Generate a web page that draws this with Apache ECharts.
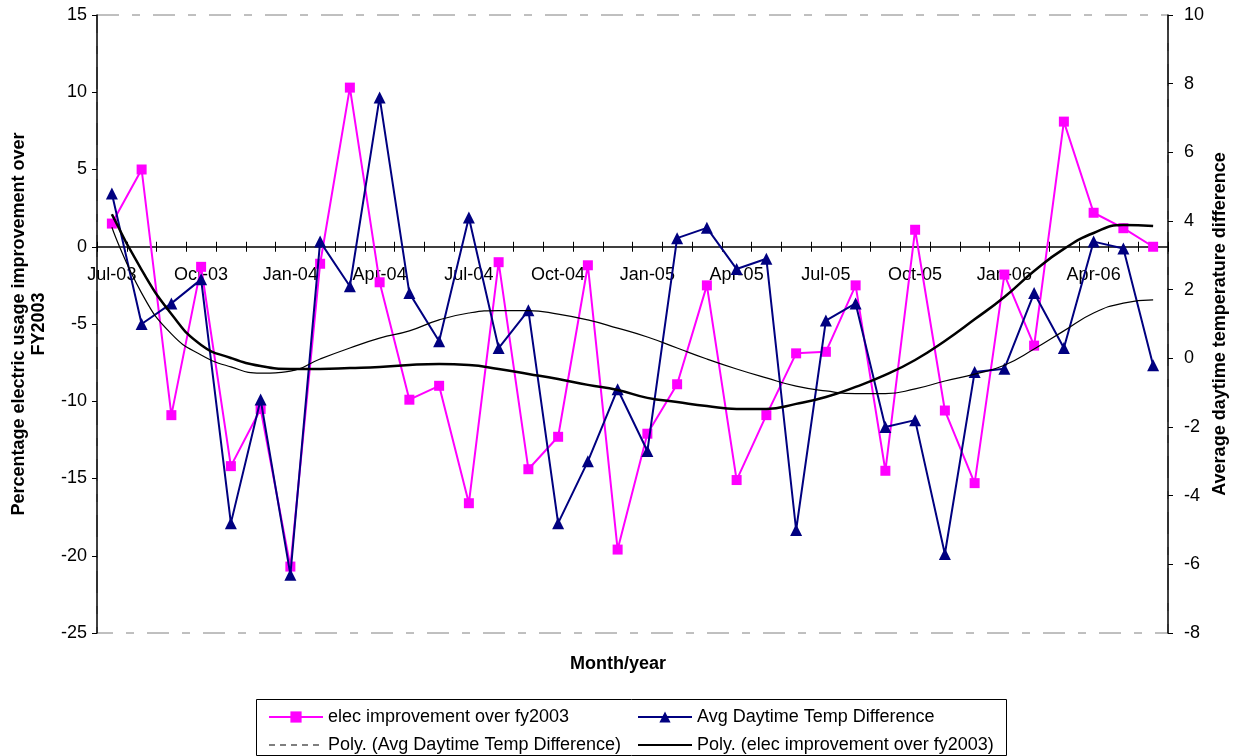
<!DOCTYPE html>
<html><head><meta charset="utf-8">
<script src="https://cdn.jsdelivr.net/npm/echarts@6/dist/echarts.min.js"></script>
<style>html,body{margin:0;padding:0;background:#fff}#c{width:1236px;height:756px}</style>
</head><body><div id="c"></div>
<script>
const months = ["Jul-03","Aug-03","Sep-03","Oct-03","Nov-03","Dec-03","Jan-04","Feb-04","Mar-04","Apr-04","May-04","Jun-04",
"Jul-04","Aug-04","Sep-04","Oct-04","Nov-04","Dec-04","Jan-05","Feb-05","Mar-05","Apr-05","May-05","Jun-05",
"Jul-05","Aug-05","Sep-05","Oct-05","Nov-05","Dec-05","Jan-06","Feb-06","Mar-06","Apr-06","May-06","Jun-06"];
const elecImprovement = [1.5, 5.0, -10.9, -1.3, -14.2, -10.5, -20.7, -1.1, 10.3, -2.3, -9.9, -9.0,
  -16.6, -1.0, -14.4, -12.3, -1.2, -19.6, -12.1, -8.9, -2.5, -15.1, -10.9, -6.9,
  -6.8, -2.5, -14.5, 1.1, -10.6, -15.3, -1.8, -6.4, 8.1, 2.2, 1.2, 0.0];
const tempDifference = [4.8, 1.0, 1.6, 2.3, -4.8, -1.2, -6.3, 3.4, 2.1, 7.6, 1.9, 0.5,
  4.1, 0.3, 1.4, -4.8, -3.0, -0.9, -2.7, 3.5, 3.8, 2.6, 2.9, -5.0,
  1.1, 1.6, -2.0, -1.8, -5.7, -0.4, -0.3, 1.9, 0.3, 3.4, 3.2, -0.2];
// trend lines
const polyElec = [2.1, -1.5, -4.35, -6.36, -7.2, -7.72, -7.91, -7.91, -7.85, -7.78, -7.65, -7.59,
  -7.65, -7.91, -8.23, -8.56, -8.94, -9.27, -9.78, -10.05, -10.31, -10.5, -10.5, -10.17,
  -9.72, -9.07, -8.3, -7.33, -6.1, -4.7, -3.25, -1.57, -0.14, 0.89, 1.41, 1.35];
const polyTemp = [3.82, 1.9, 0.71, 0.1, -0.25, -0.43, -0.37, -0.02, 0.3, 0.59, 0.8, 1.12,
  1.32, 1.39, 1.39, 1.29, 1.12, 0.88, 0.62, 0.3, -0.02, -0.31, -0.57, -0.81,
  -0.95, -1.03, -1.03, -0.89, -0.66, -0.46, -0.2, 0.27, 0.8, 1.32, 1.61, 1.7];
const leftTicks = {min: -25, max: 15, interval: 5};
const rightTicks = {min: -8, max: 10, interval: 2};

const FONT = "'Liberation Sans', Arial, sans-serif";
const names = ["elec improvement over fy2003", "Avg Daytime Temp Difference",
  "Poly. (Avg Daytime Temp Difference)", "Poly. (elec improvement over fy2003)"];

// plot geometry
const G = {left: 97, right: 68, top: 15, bottom: 123};
const plotH = 756 - G.top - G.bottom;
const zeroY = G.top + plotH * (leftTicks.max / (leftTicks.max - leftTicks.min));

const chart = echarts.init(document.getElementById('c'), null, {renderer: 'canvas'});
const legendCommon = {
  orient: 'vertical', itemWidth: 54, itemHeight: 14, itemGap: 10, padding: 0,
  height: 48,
  textStyle: {fontFamily: FONT, fontSize: 18, color: '#000', lineHeight: 16},
  selectedMode: false
};
const noSym = {opacity: 0};
chart.setOption({
  animation: false,
  backgroundColor: '#fff',
  textStyle: {fontFamily: FONT},
  grid: [
    {left: G.left, right: G.right, top: G.top, bottom: G.bottom, show: true,
      borderColor: '#808080', borderWidth: 1, borderType: [22, 13, 8, 13],
      outerBoundsMode: 'none', containLabel: false},
    {left: G.left, right: G.right, top: G.top, bottom: 756 - zeroY, show: false,
      outerBoundsMode: 'none', containLabel: false},
    {left: G.left, right: G.right, top: zeroY, bottom: G.bottom, show: false,
      outerBoundsMode: 'none', containLabel: false}
  ],
  legend: [
    Object.assign({}, legendCommon, {left: 268, top: 708,
      data: [{name: names[0]}, {name: names[2], itemStyle: noSym, lineStyle: {type: [6, 5], width: 1.2, color: '#000', opacity: 1}}]}),
    Object.assign({}, legendCommon, {left: 637, top: 708,
      data: [{name: names[1]}, {name: names[3], itemStyle: noSym, lineStyle: {color: '#000', width: 2, opacity: 1}}]})
  ],
  xAxis: [{
    gridIndex: 0, type: 'category', data: months, boundaryGap: true, show: false
  }, {
    gridIndex: 1, type: 'category', data: months, position: 'bottom', boundaryGap: true,
    axisLine: {onZero: false, lineStyle: {color: '#000', width: 1.5}},
    axisTick: {show: true, interval: 0, length: 5, lineStyle: {color: '#000', width: 1}},
    axisLabel: {interval: 2, margin: 19, fontSize: 18, color: '#000', fontFamily: FONT},
    splitLine: {show: false}
  }, {
    gridIndex: 2, type: 'category', data: months, position: 'top', boundaryGap: true,
    axisLine: {show: false, onZero: false},
    axisTick: {show: true, interval: 0, length: 5, lineStyle: {color: '#000', width: 1}},
    axisLabel: {show: false}, splitLine: {show: false}
  }],
  yAxis: [{
    gridIndex: 0, type: 'value', position: 'left', min: leftTicks.min, max: leftTicks.max, interval: leftTicks.interval,
    axisLine: {show: true, onZero: false, lineStyle: {color: '#000', width: 1.5}},
    axisTick: {show: true, length: 5, lineStyle: {color: '#000'}},
    axisLabel: {margin: 10, fontSize: 18, color: '#000', fontFamily: FONT},
    splitLine: {show: false},
    name: 'Percentage electric usage improvement over\nFY2003',
    nameLocation: 'middle', nameRotate: 90, nameGap: 48, nameMoveOverlap: false,
    nameTextStyle: {fontSize: 18, fontWeight: 'bold', color: '#000', fontFamily: FONT, lineHeight: 20, align: 'center'}
  }, {
    gridIndex: 0, type: 'value', position: 'right', min: rightTicks.min, max: rightTicks.max, interval: rightTicks.interval,
    axisLine: {show: true, onZero: false, lineStyle: {color: '#000', width: 1.5}},
    axisTick: {show: true, length: 5, lineStyle: {color: '#000'}},
    axisLabel: {margin: 16, fontSize: 18, color: '#000', fontFamily: FONT},
    splitLine: {show: false},
    name: 'Average daytime temperature difference',
    nameLocation: 'middle', nameRotate: 90, nameGap: 43, nameMoveOverlap: false,
    nameTextStyle: {fontSize: 18, fontWeight: 'bold', color: '#000', fontFamily: FONT}
  }, {
    gridIndex: 1, type: 'value', show: false
  }, {
    gridIndex: 2, type: 'value', show: false
  }],
  graphic: [
    {type: 'text', left: 'center', top: 655, style: {text: 'Month/year', font: "bold 18px 'Liberation Sans', Arial", fill: '#000'}},
    {type: 'rect', shape: {x: 256.5, y: 699.5, width: 750, height: 56}, style: {fill: 'none', stroke: '#000', lineWidth: 1}, z: -1}
  ],
  series: [{
    name: names[0], type: 'line', data: elecImprovement, xAxisIndex: 0, yAxisIndex: 0,
    symbol: 'rect', symbolSize: 10,
    itemStyle: {color: '#FF00FF'}, lineStyle: {color: '#FF00FF', width: 2}, z: 2
  }, {
    name: names[1], type: 'line', data: tempDifference, xAxisIndex: 0, yAxisIndex: 1,
    symbol: 'triangle', symbolSize: 12,
    itemStyle: {color: '#000080'}, lineStyle: {color: '#000080', width: 2}, z: 3
  }, {
    name: names[2], type: 'line', data: polyTemp, xAxisIndex: 0, yAxisIndex: 1,
    symbol: 'none', smooth: 0.5, itemStyle: {color: '#000'},
    lineStyle: {color: '#000', width: 1.2}, z: 4
  }, {
    name: names[3], type: 'line', data: polyElec, xAxisIndex: 0, yAxisIndex: 0,
    symbol: 'none', smooth: 0.5, itemStyle: {color: '#000'},
    lineStyle: {color: '#000', width: 2.5}, z: 5
  }]
});
</script></body></html>
